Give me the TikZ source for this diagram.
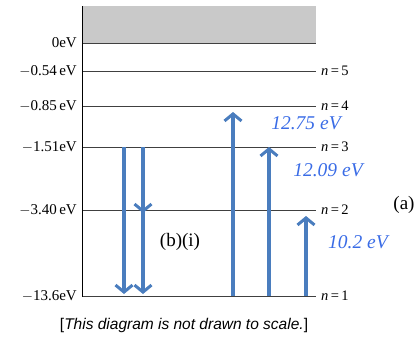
\documentclass[tikz,border=0pt]{standalone}
\usepackage{fontspec}
\setmainfont{Liberation Serif}
\setsansfont{Liberation Sans}
\usetikzlibrary{arrows.meta}
\definecolor{jumpblue}{RGB}{74,125,190}
\definecolor{textblue}{RGB}{58,108,230}

\begin{document}
\begin{tikzpicture}[x=1pt,y=-1pt,
  level/.style={line width=0.8pt,black!75},
  elabel/.style={left,inner sep=1pt,font=\fontsize{15}{17}\selectfont},
  nlabel/.style={right,inner sep=1pt,font=\fontsize{14.5}{17}\selectfont},
  jump/.style={line width=4pt,jumpblue,-{Straight Barb[length=7pt,width=17pt,line width=3pt]}},
  evlabel/.style={textblue,inner sep=0pt,font=\fontsize{19.5}{22}\selectfont\itshape}]
  \useasboundingbox (0,0) rectangle (419,338);

  % Draw the continuum
  \fill[gray!42] (82,6) rectangle (316,43);
  \draw[level] (82,43) -- (316,43);
  \node[elabel] (e0) at (78,43) {0eV};

  % Draw energy levels
  \foreach \y/\e/\n in {71/{$-$0.54\,eV}/5,106/{$-$0.85\,eV}/4,147/{$-$1.51eV}/3,210/{$-$3.40\,eV}/2,296/{$-$13.6eV}/1} {
    \draw[level] (82,\y) -- (316,\y);
    \node[elabel] (e\n) at (78,\y) {\e};
    \node[nlabel] (n\n) at (320,\y) {\textit{n}\,=\,\n};
  }
  \draw[line width=0.8pt] (82,6) -- (82,297);

  % Draw transitions (b)(i)
  \draw[jump,shorten >=2pt] (n3.west -| 124,0) -- (n1.west -| 124,0);
  \draw[jump,shorten >=-3pt] (n3.west -| 143,0) -- (n2.west -| 143,0);
  \draw[jump,shorten >=2pt] (n2.west -| 143,0) -- (n1.west -| 143,0);

  % Draw excitations (a)
  \draw[jump,shorten >=6pt] (n1.west -| 233,0) -- (n4.west -| 233,0);
  \draw[jump] (n1.west -| 269,0) -- (n3.west -| 269,0);
  \draw[jump,shorten >=6pt] (n1.west -| 306,0) -- (n2.west -| 306,0);

  % Label energies
  \node[evlabel] (t4) at (306,123) {12.75 eV};
  \node[evlabel] (t3) at (328,170) {12.09 eV};
  \node[evlabel] (t2) at (358,242) {10.2 eV};
  \node[font=\fontsize{19}{21}\selectfont] (a) at (404,205) {(a)};
  \node[font=\fontsize{19}{21}\selectfont] (bi) at (180,242) {(b)(i)};

  % Caption
  \node[font=\sffamily\fontsize{15.5}{18}\selectfont] (cap) at (184,325) {[\textit{This diagram is not drawn to scale.}]};
\end{tikzpicture}
\end{document}
